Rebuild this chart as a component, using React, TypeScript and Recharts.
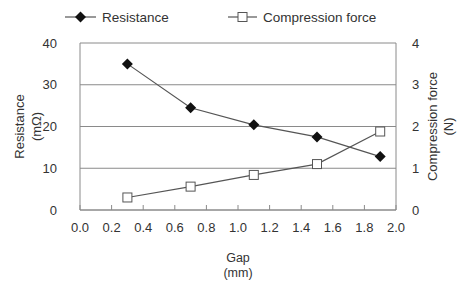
import React from 'react';
import { LineChart, Line, XAxis, YAxis, CartesianGrid, Label } from 'recharts';

const gaps = [0.3, 0.7, 1.1, 1.5, 1.9];
const resistance = [35, 24.5, 20.4, 17.5, 12.8];
const compression = [0.3, 0.56, 0.84, 1.1, 1.88];
const gapTicks = [0, 0.2, 0.4, 0.6, 0.8, 1.0, 1.2, 1.4, 1.6, 1.8, 2.0];
const resistanceTicks = [0, 10, 20, 30, 40];
const forceTicks = [0, 1, 2, 3, 4];

const data = gaps.map((g, i) => ({ gap: g, resistance: resistance[i], compression: compression[i] }));

const FONT = '"Liberation Sans", Arial, sans-serif';
const TEXT = '#333';
const LINE = '#555';
const GRID = '#8a8a8a';

const Diamond = ({ cx, cy }: any) => (
  <path d={`M${cx},${cy - 5.5}L${cx + 5.5},${cy}L${cx},${cy + 5.5}L${cx - 5.5},${cy}Z`} fill="#111" />
);

const Square = ({ cx, cy }: any) => (
  <rect x={cx - 4.5} y={cy - 4.5} width={9} height={9} fill="#fff" stroke={LINE} strokeWidth={1} />
);

const GapTick = ({ x, y, payload }: any) => (
  <g>
    <line x1={x} x2={x} y1={y} y2={y - 5} stroke={GRID} />
    <text x={x} y={y + 22} textAnchor="middle" fontSize={13} fill={TEXT} fontFamily={FONT}>
      {Number(payload.value).toFixed(1)}
    </text>
  </g>
);

const GapLabel = ({ viewBox }: any) => {
  const cx = viewBox.x + viewBox.width / 2;
  return (
    <g fontSize={12.5} fill={TEXT} fontFamily={FONT}>
      <text x={cx} y={viewBox.y + 52} textAnchor="middle">Gap</text>
      <text x={cx} y={viewBox.y + 67} textAnchor="middle">(mm)</text>
    </g>
  );
};

const SideLabel = ({ x1, x2, cy, top, bottom }: any) => (
  <g fontSize={13} fill={TEXT} fontFamily={FONT}>
    <text x={x1} y={cy} textAnchor="middle" transform={`rotate(-90 ${x1} ${cy})`} dy={4}>{top}</text>
    <text x={x2} y={cy} textAnchor="middle" transform={`rotate(-90 ${x2} ${cy})`} dy={4}>{bottom}</text>
  </g>
);

const LegendItem = ({ marker, label, left, width }: any) => (
  <div style={{ position: 'absolute', left, top: 9, display: 'flex', alignItems: 'center' }}>
    <svg width={width} height={16}>
      <line x1={0} x2={width} y1={8} y2={8} stroke={LINE} strokeWidth={1.2} />
      {marker === 'diamond' ? <Diamond cx={width / 2} cy={8} /> : <Square cx={width / 2} cy={8} />}
    </svg>
    <span style={{ marginLeft: 6, fontSize: 13.5, color: TEXT, fontFamily: FONT }}>{label}</span>
  </div>
);

export default function App() {
  return (
    <div style={{ position: 'absolute', left: 0, top: 0, width: 459, height: 282, background: '#fff' }}>
      <LegendItem marker="diamond" label="Resistance" left={65} width={31} />
      <LegendItem marker="square" label="Compression force" left={228} width={29} />
      <LineChart width={459} height={282} data={data} margin={{ top: 43, right: 0, bottom: 0, left: 0 }}>
        <CartesianGrid yAxisId="r" vertical={false} stroke={GRID} />
        <XAxis
          dataKey="gap"
          type="number"
          domain={[0, 2]}
          ticks={gapTicks}
          height={72}
          tickSize={0}
          tickMargin={0}
          tick={<GapTick />}
          axisLine={{ stroke: GRID }}
        >
          <Label content={<GapLabel />} />
        </XAxis>
        <YAxis
          yAxisId="r"
          domain={[0, 40]}
          ticks={resistanceTicks}
          width={80}
          tickLine={false}
          tickMargin={17}
          axisLine={{ stroke: GRID }}
          tick={{ fontSize: 13, fill: TEXT, fontFamily: FONT }}
        >
          <Label content={({ viewBox }: any) => (
            <SideLabel x1={20} x2={37} cy={viewBox.y + viewBox.height / 2} top="Resistance" bottom="(mΩ)" />
          )} />
        </YAxis>
        <YAxis
          yAxisId="f"
          orientation="right"
          domain={[0, 4]}
          ticks={forceTicks}
          width={63}
          tickLine={false}
          tickMargin={10}
          axisLine={{ stroke: GRID }}
          tick={{ fontSize: 13, fill: TEXT, fontFamily: FONT }}
        >
          <Label content={({ viewBox }: any) => (
            <SideLabel x1={433} x2={449} cy={viewBox.y + viewBox.height / 2} top="Compression force" bottom="(N)" />
          )} />
        </YAxis>
        <Line
          yAxisId="r"
          dataKey="resistance"
          stroke={LINE}
          strokeWidth={1.2}
          dot={<Diamond />}
          isAnimationActive={false}
        />
        <Line
          yAxisId="f"
          dataKey="compression"
          stroke={LINE}
          strokeWidth={1.2}
          dot={<Square />}
          isAnimationActive={false}
        />
      </LineChart>
    </div>
  );
}
